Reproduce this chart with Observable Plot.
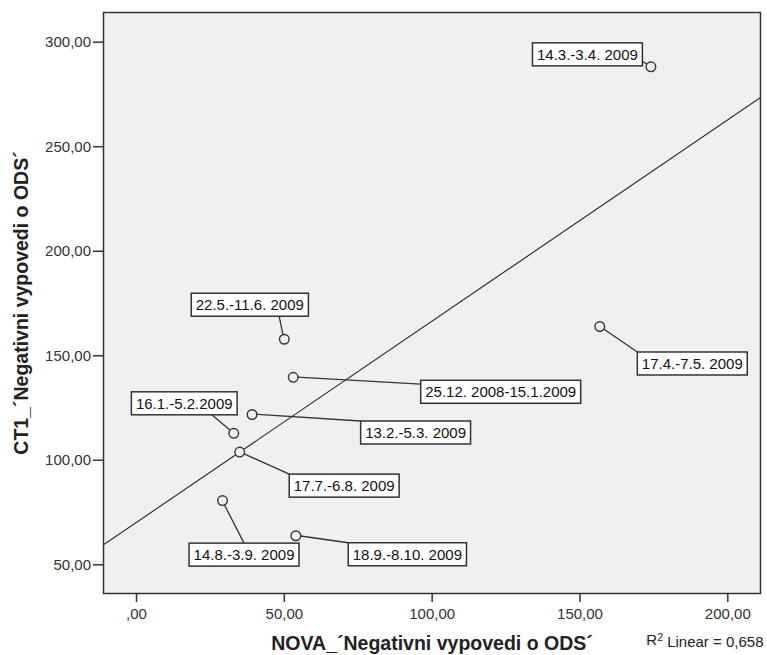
<!DOCTYPE html>
<html>
<head>
<meta charset="utf-8">
<script src="https://cdn.jsdelivr.net/npm/d3@7"></script>
<script src="https://cdn.jsdelivr.net/npm/@observablehq/plot@0.6"></script>
<style>
  html, body { margin: 0; padding: 0; background: #fff; }
  #chart svg { display: block; }
</style>
</head>
<body>
<div id="chart"></div>
<script>
// ---- data ----
const periods = [
  "14.3.-3.4. 2009",
  "17.4.-7.5. 2009",
  "22.5.-11.6. 2009",
  "25.12. 2008-15.1.2009",
  "13.2.-5.3. 2009",
  "16.1.-5.2.2009",
  "17.7.-6.8. 2009",
  "14.8.-3.9. 2009",
  "18.9.-8.10. 2009"
];
const novaValues = [174.0, 156.7, 50.0, 53.0, 39.1, 32.9, 34.9, 29.1, 53.9];
const ct1Values  = [288.2, 164.0, 157.9, 139.7, 121.9, 112.9, 103.9, 80.7, 63.9];
// label box centre offsets from the point, in pixels
const labelOffsets = [
  [-63, -12], [93, 37.5], [-34, -34], [208, 15], [164, 18.5],
  [-49, -29.5], [105, 34], [22, 54.5], [112, 19]
];
// where the leader line meets the box (fractions of box width / height)
const leaderAttach = [
  [1, 0.8], [0, 0], [0.75, 1], [0, 0.17], [0, 0],
  [0.76, 1], [0, 0], [0.5, 0], [0, 0]
];
const xTicks = [0, 50, 100, 150, 200];
const yTicks = [50, 100, 150, 200, 250, 300];
const xTitle = "NOVA_´Negativni vypovedi o ODS´";
const yTitle = "CT1_´Negativni vypovedi o ODS´";
const r2Base = "R", r2Sup = "2", r2Rest = " Linear = 0,658";

// ---- derived ----
const data = periods.map((p, i) => ({
  period: p, x: novaValues[i], y: ct1Values[i],
  ox: labelOffsets[i][0], oy: labelOffsets[i][1],
  ax: leaderAttach[i][0], ay: leaderAttach[i][1]
}));
const mx = d3.mean(novaValues), my = d3.mean(ct1Values);
const slope = d3.sum(data, d => (d.x - mx) * (d.y - my)) / d3.sum(data, d => (d.x - mx) ** 2);
const intercept = my - slope * mx;
const xDomain = [-11.16, 211.06];
const yDomain = [36.27, 314.2];
const fitLine = xDomain.map(x => ({x, y: intercept + slope * x}));
const fmt = d => d === 0 ? ",00" : d.toFixed(2).replace(".", ",");

const FONT = "'Liberation Sans', Arial, Helvetica, sans-serif";

const plot = Plot.plot({
  width: 767,
  height: 655,
  marginLeft: 103,
  marginRight: 7,
  marginTop: 12,
  marginBottom: 62,
  x: {domain: xDomain},
  y: {domain: yDomain},
  style: {fontFamily: FONT, fontSize: "15px", background: "#fff", color: "#333", overflow: "visible"},
  marks: [
    Plot.frame({fill: "#f0f0f0"}),
    Plot.axisX({ticks: xTicks, tickFormat: fmt, tickSize: 9, tickPadding: 6, fontSize: 15, strokeWidth: 1.5, label: null}),
    Plot.axisY({ticks: yTicks, tickFormat: fmt, tickSize: 10, tickPadding: 2.5, fontSize: 15, strokeWidth: 1.5, label: null}),
    Plot.line(fitLine, {x: "x", y: "y", stroke: "#333", strokeWidth: 1.2}),
    Plot.dot(data, {x: "x", y: "y", r: 4.8, stroke: "#333", strokeWidth: 1.4, fill: "#f0f0f0"}),
    Plot.frame({stroke: "#333", strokeWidth: 1.5}),
    Plot.text([xTitle], {text: d => d, frameAnchor: "bottom", dy: 50, lineAnchor: "middle",
      textAnchor: "middle", fontWeight: "bold", fontSize: 19.5, fill: "#222"}),
    Plot.text([yTitle], {text: d => d, frameAnchor: "left", dx: -82, rotate: -90, lineAnchor: "middle",
      textAnchor: "middle", fontWeight: "bold", fontSize: 19.5, fill: "#222"}),
    Plot.text([r2Base + r2Sup + r2Rest], {text: d => d, frameAnchor: "bottom-right", dx: 3, dy: 47, lineAnchor: "middle",
      textAnchor: "end", fontSize: 15, fill: "#222", className: "r2"})
  ]
});

document.getElementById("chart").appendChild(plot);

// superscript for R²
const r2Node = plot.querySelector(".r2 text");
if (r2Node) {
  const t = d3.select(r2Node);
  t.text(null);
  t.append("tspan").text(r2Base);
  t.append("tspan").attr("dy", "-0.42em").attr("font-size", "10.5px").text(r2Sup);
  t.append("tspan").attr("dy", "0.42em").text(r2Rest);
}

// ---- annotation boxes with leader lines ----
const sx = plot.scale("x"), sy = plot.scale("y");
const svg = d3.select(plot);
const dotNode = plot.querySelector('g[aria-label="dot"]');
const leaderG = svg.insert("g", () => dotNode).attr("aria-label", "leaders");
const boxG = svg.append("g").attr("aria-label", "labels");

data.forEach(d => {
  const px = sx.apply(d.x), py = sy.apply(d.y);
  const cx = px + d.ox, cy = py + d.oy;
  const g = boxG.append("g");
  const rect = g.append("rect");
  const t = g.append("text")
    .attr("x", cx).attr("y", cy).attr("dy", "0.36em")
    .attr("text-anchor", "middle")
    .attr("font-family", FONT).attr("font-size", 15).attr("fill", "#111")
    .text(d.period);
  const tw = t.node().getComputedTextLength();
  const w = tw + 9, h = 23;
  const x0 = cx - w / 2, y0 = cy - h / 2;
  rect.attr("x", x0).attr("y", y0).attr("width", w).attr("height", h)
    .attr("fill", "#fff").attr("stroke", "#333").attr("stroke-width", 1.5);
  const lx = x0 + d.ax * w;
  const ly = y0 + d.ay * h;
  leaderG.append("line")
    .attr("x1", px).attr("y1", py).attr("x2", lx).attr("y2", ly)
    .attr("stroke", "#333").attr("stroke-width", 1.3);
});
</script>
</body>
</html>
